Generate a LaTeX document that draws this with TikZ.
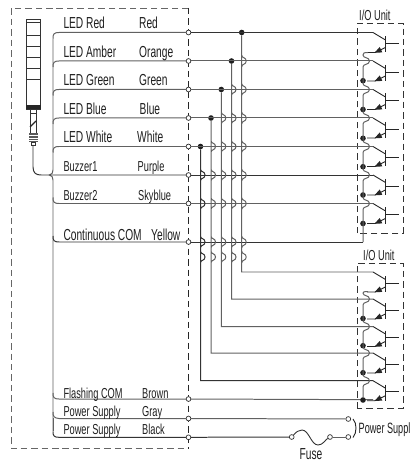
\documentclass[tikz,border=0pt]{standalone}
\usepackage{fontspec}
\newfontfamily\condfont[FakeStretch=0.64]{Liberation Sans}
\newfontfamily\condfontb[FakeStretch=0.61]{Liberation Sans}
\definecolor{wa}{gray}{0.38}
\definecolor{wb}{gray}{0.2}
\tikzset{
  wire/.style={line width=1pt,wa},
  wireb/.style={line width=1pt,wb},
  term/.style={circle,draw=wb,fill=white,line width=0.7pt,inner sep=0pt,minimum size=4.8pt},
  jdot/.style={circle,fill=black!88,draw=none,inner sep=0pt,minimum size=5.6pt},
  box/.style={dashed,dash pattern=on 6.5pt off 4pt,line width=0.9pt},
  lab/.style={inner sep=0pt,anchor=base west,yshift=-5bp,text=black!88,font=\condfont\fontsize{16}{16}\selectfont},
  labs/.style={inner sep=0pt,anchor=base west,yshift=-5bp,text=black!88,font=\condfont\fontsize{14.5}{14.5}\selectfont},
  labn/.style={inner sep=0pt,anchor=base west,yshift=-5bp,text=black!88,font=\condfontb\fontsize{15}{15}\selectfont},
  dev/.style={line width=0.9pt,black!85},
  lamp/.style={line width=0.9pt,black!80}
}
% #1 x, #2 comma list of rows, #3 bulge
\newcommand{\humps}[3]{foreach \r in {#2} { -- (#1,\r-6) .. controls (#1,\r-2.5) and (#1+#3,\r-4) .. (#1+#3,\r) .. controls (#1+#3,\r+4) and (#1,\r+2.5) .. (#1,\r+6) }}
\newcommand{\transistor}[1]{%
  \draw[dev] (373,#1) -- (385.5,#1+7.5);
  \draw[dev] (385.5,#1+4) -- (385.5,#1+20);
  \draw[dev] (385.5,#1+11) -- (399,#1+11);
  \draw[dev] (385.5,#1+15) -- (375,#1+20) -- (367,#1+20);
  \fill[black!85] (374.5,#1+20.3) -- (382.3,#1+19.9) -- (379.7,#1+14.5) -- cycle;
}
\begin{document}
\begin{tikzpicture}[x=1bp,y=-1bp]
\useasboundingbox (0,0) rectangle (412,461);
\fill[white] (0,0) rectangle (412,461);

% outer and unit boxes
\draw[box,black!60] (188.5,8) -- (11,8) -- (11,448.5) -- (188.5,448.5);
\draw[box,black!85] (188.5,8) -- (188.5,448.5);
\draw[box,black!80] (357,233) -- (357,23) -- (403,23) -- (403,233) -- cycle;
\draw[box,black!80] (357,408) -- (357,263) -- (403,263) -- (403,408) -- cycle;

% stack light
\draw[lamp] (26,19) rectangle (40.5,109);
\foreach \y in {22,35,46,57,68,79.5} {\draw[lamp] (26,\y) -- (40.5,\y);}
\fill[black!85] (26,105) rectangle (40.5,109);
\draw[lamp] (30,109) rectangle (36.7,133);
\draw[lamp] (30,113) -- (36.7,113);
\draw[line width=1.2pt,black!85] (30,127) -- (36,121);
\fill[black!65] (28.5,133) rectangle (37.5,142);
\foreach \y in {135,138,140.5} {\draw[white,line width=0.4pt] (28.5,\y) -- (37.5,\y);}
\draw[lamp] (31,142) rectangle (35.5,145);

% left bus and named end points
\coordinate (cable) at (33,145);
\coordinate (bustip) at (49.5,175);
\foreach \n/\y in {a/32.5,b/61,c/89.5,d/118,e/146.5}
  {\coordinate (s\n) at (53,\y+6);}
\foreach \n/\y in {g/203.5,h/242,i/399,j/418,k/437.3}
  {\coordinate (s\n) at (53,\y-6);}

% terminals
\foreach \n/\y in {a/32.5,b/61,c/89.5,d/118,e/146.5,f/175,g/203.5,h/242,i/399,j/418.5,k/437.3}
  {\node[term] (t\n) at (188.5,\y) {};}

% junctions on the rows
\node[jdot] (ja) at (241.7,32.5) {};
\node[jdot] (jb) at (231.5,61) {};
\node[jdot] (jc) at (221.3,89.5) {};
\node[jdot] (jd) at (211,118) {};
\node[jdot] (je) at (200.5,146.5) {};

% bus
\draw[wire] (sa) .. controls (53,34) and (54,32.5) .. (59,32.5) -- (ta);
\draw[wire] (sb) .. controls (53,62.5) and (54,61) .. (59,61) -- (tb);
\draw[wire] (sc) .. controls (53,91) and (54,89.5) .. (59,89.5) -- (tc);
\draw[wire] (sd) .. controls (53,119.5) and (54,118) .. (59,118) -- (td);
\draw[wire] (se) .. controls (53,148) and (54,146.5) .. (59,146.5) -- (te);
\draw[wire] (sa) -- (53,170) .. controls (53,173) and (52,174) .. (bustip)
   .. controls (52,176) and (53,177) .. (53,180) -- (53,431);
\draw[wire] (sg) .. controls (53,202) and (54,203.5) .. (59,203.5) -- (tg);
\draw[wireb] (sh) .. controls (53,240.5) and (54,242) .. (59,242) -- (th);
\draw[wire] (si) .. controls (53,397.5) and (54,399) .. (59,399) -- (ti);
\draw[wire] (sj) .. controls (53,416.5) and (54,418) .. (59,418.5) -- (tj);
\draw[wireb] (sk) .. controls (53,435.8) and (54,437.3) .. (59,437.3) -- (tk);
\draw[wire] (53,418) -- (sk);
\draw[wireb] (cable) -- (33,167) .. controls (33,173) and (36,175) .. (41,175) -- (tf);

% rows on to the I/O units
\foreach \n/\y/\c in {a/32.5/wb,b/61/wa,c/89.5/wa,d/118/wa,e/146.5/wa,f/175/wb,g/203.5/wa}
  {\draw[line width=1pt,\c] (t\n) -- (373,\y);}
\draw[wireb] (th) -- (363,242);
\draw[wire] (ti) -- (373,399.7);
\foreach \y in {32.5,61,89.5,118,146.5,175,203.5,272,299,326.5,353,380.7} {\transistor{\y}}

% taps with their jumps
\draw[wire] (ja) \humps{241.7}{61,89.5,118,146.5,175,203.5,242,257}{4.5} -- (241.7,272) -- (373,272);
\draw[wire] (jb) \humps{231.5}{89.5,118,146.5,175,203.5,242,257}{4.5} -- (231.5,299) -- (373,299);
\draw[wire] (jc) \humps{221.3}{118,146.5,175,203.5,242,257}{4.5} -- (221.3,326.5) -- (373,326.5);
\draw[wire] (jd) \humps{211}{146.5,175,203.5,242,257}{4.5} -- (211,353) -- (373,353);
\draw[wireb] (je) \humps{200.5}{175,203.5,242,257}{4.5} -- (200.5,380.7) -- (373,380.7);

% commons in the I/O units
\node[jdot] (ua) at (363,80.7) {};
\node[jdot] (ub) at (363,109.5) {};
\node[jdot] (uc) at (363,138.3) {};
\node[jdot] (ud) at (363,166.7) {};
\node[jdot] (ue) at (363,195) {};
\node[jdot] (uf) at (363,223.5) {};
\node[jdot] (la) at (363,318.5) {};
\node[jdot] (lb) at (363,345.7) {};
\node[jdot] (lc) at (363,372.7) {};
\node[jdot] (ld) at (363,400) {};
\draw[wire] (368,52.5) .. controls (364,52.5) and (363,53) .. (363,55)
   \humps{363}{61,89.5,118,146.5,175,203.5}{6.5} -- (363,242);
\draw[wire] (368,291.5) .. controls (364,291.5) and (363,292) .. (363,293)
   \humps{363}{299,326.5,353,380.7}{6.5} -- (ld);

% power supply and fuse
\node[term] (pg) at (348.3,419) {};
\node[term] (pk) at (348.3,437) {};
\node[term] (fa) at (291.7,437) {};
\node[term] (fb) at (330,437) {};
\draw[wire] (tj) -- (pg);
\draw[wireb] (tk) -- (fa);
\draw[wire] (fb) -- (pk);
\draw[line width=0.9pt,black!80] (fa) .. controls (296,432) and (299,430) .. (302,430)
   .. controls (309,430) and (311,445) .. (318,445) .. controls (323,445) and (325,440) .. (fb);
\draw[line width=0.9pt,black!85] (353,419) .. controls (357,423) and (357,433) .. (353,437.5);

% texts
\node[lab] (l1) at (63.3,24) {LED Red};
\node[lab] (l2) at (63.3,52.5) {LED Amber};
\node[lab] (l3) at (63.3,81) {LED Green};
\node[lab] (l4) at (63.3,109.5) {LED Blue};
\node[lab] (l5) at (63.3,138) {LED White};
\node[labs] (l6) at (63.3,167) {Buzzer1};
\node[labs] (l7) at (63.3,196) {Buzzer2};
\node[lab] (l8) at (63.3,235) {Continuous COM};
\node[labs] (l9) at (63.3,393) {Flashing COM};
\node[labs] (l10) at (63.3,411) {Power Supply};
\node[labs] (l11) at (63.3,429.5) {Power Supply};
\node[lab] (c1) at (139,24) {Red};
\node[lab] (c2) at (139,52.5) {Orange};
\node[lab] (c3) at (139,81) {Green};
\node[lab] (c4) at (139.5,109.5) {Blue};
\node[lab] (c5) at (137,138) {White};
\node[labs] (c6) at (137.5,167) {Purple};
\node[labs] (c7) at (138,196) {Skyblue};
\node[lab] (c8) at (151,235) {Yellow};
\node[labs] (c9) at (142,393) {Brown};
\node[labs] (c10) at (142,411) {Gray};
\node[labs] (c11) at (142,429.5) {Black};
\node[labs] (io1) at (359,15.5) {I/O Unit};
\node[labs] (io2) at (363,255.5) {I/O Unit};
\node[labn] (ps) at (358.5,428.5) {Power Suppl};
\node[lab,anchor=base] (fu) at (311,454) {Fuse};
\end{tikzpicture}
\end{document}
